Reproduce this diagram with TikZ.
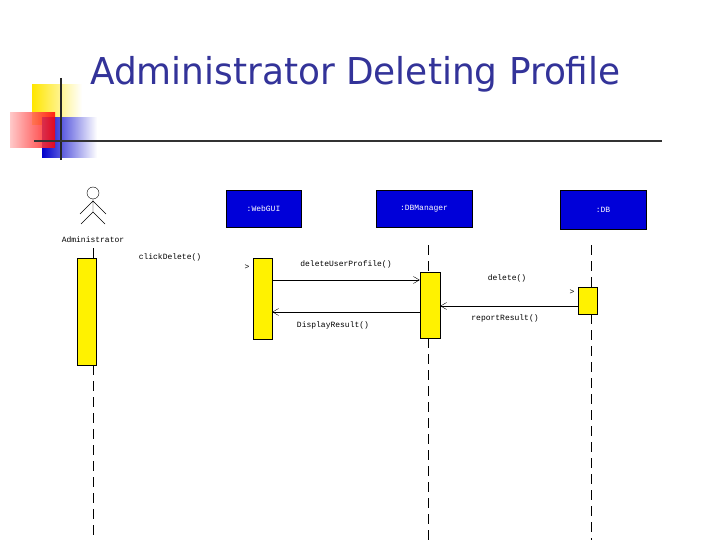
\documentclass[tikz,border=0pt]{standalone}
\usepackage{fontspec}
\setmainfont{Liberation Sans}
\setmonofont{Liberation Mono}
\newfontfamily\titlefont{DejaVu Sans}
\usetikzlibrary{arrows.meta}
\begin{document}
\begin{tikzpicture}[x=1pt,y=-1pt,
  obj/.style={draw=black,fill=blue!85!black,text=white,font=\ttfamily\fontsize{8}{9}\selectfont,inner sep=0pt},
  act/.style={draw=black,fill=yellow,inner sep=0pt},
  msg/.style={font=\ttfamily\fontsize{8}{9}\selectfont,inner sep=0pt},
  life/.style={black,dash pattern=on 10pt off 6pt},
  arr/.style={-{Straight Barb[length=6pt,width=7pt]}}]
\useasboundingbox (0,0) rectangle (720,540);
% logo
\shade[left color=yellow!80!orange,right color=white] (32,85) rectangle (82,125);
\shade[left color=blue!80!black,right color=white] (42,118) rectangle (97,158);
\shade[left color=red!25,right color=red,opacity=0.85] (10,113) rectangle (55,148);
\draw[line width=2pt,black!85] (61,78) -- (61,160);
\draw[line width=2pt,black!80] (34,141) -- (662,141);
\node[anchor=west,text={rgb,255:red,51;green,51;blue,153},font=\titlefont\fontsize{37}{42}\selectfont,inner sep=0pt,xscale=0.97] (title) at (90,74) {Administrator Deleting Profile};
% actor
\coordinate (hd) at (93,193);
\draw (hd) circle (6);
\draw (93,199) -- (93,212) (93,201) -- (80,214) (93,201) -- (106,214) (93,212) -- (81,224) (93,212) -- (105,224);
\node[msg] (adminlbl) at (93,240) {Administrator};
% objects
\node[obj,minimum width=75,minimum height=37] (web) at (263.5,208.5) {:WebGUI};
\node[obj,minimum width=96,minimum height=37] (dbm) at (424,208.5) {:DBManager};
\node[obj,minimum width=86,minimum height=39] (db) at (603,209.5) {:DB};
% lifelines
\draw (93,248) -- (93,258);
\draw[life] (93,365) -- (93,540);
\draw[life] (428,245) -- (428,272);
\draw[life] (428,338) -- (428,540);
\draw[life] (591,245) -- (591,287);
\draw[life] (591,314) -- (591,540);
% activations
\node[act,minimum width=19,minimum height=107] (a1) at (86.5,311.5) {};
\node[act,minimum width=19,minimum height=81] (a2) at (262.5,298.5) {};
\node[act,minimum width=20,minimum height=66] (a3) at (430,305) {};
\node[act,minimum width=19,minimum height=27] (a4) at (587.5,300.5) {};
% messages
\node[msg] (m1) at (170,257) {clickDelete()};
\node[msg] (h1) at (247,267) {>};
\draw[arr] (a2.east |- 0,280) -- (a3.west |- 0,280);
\node[msg] (m2) at (346,264) {deleteUserProfile()};
\node[msg] (m3) at (507,278) {delete()};
\node[msg] (h3) at (572,292) {>};
\draw[arr] (a4.west |- 0,306) -- (a3.east |- 0,306);
\node[msg] (m4) at (505,318) {reportResult()};
\draw[arr] (a3.west |- 0,312) -- (a2.east |- 0,312);
\node[msg] (m5) at (333,325) {DisplayResult()};
\end{tikzpicture}
\end{document}
